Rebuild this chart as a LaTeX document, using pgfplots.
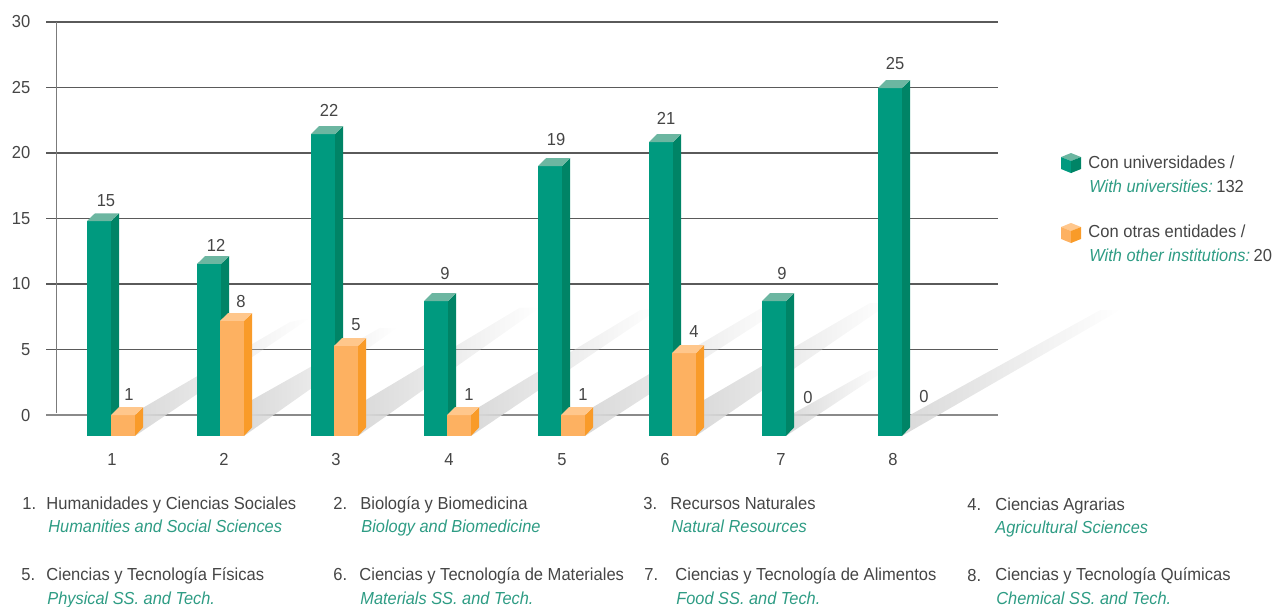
\documentclass[border=0pt]{standalone}
\usepackage{fontspec}
\setmainfont[FakeStretch=0.95,ItalicFeatures={FakeStretch=0.94}]{Liberation Sans}
\usepackage{pgfplots}
\pgfplotsset{compat=1.18}
\usetikzlibrary{fadings}

\definecolor{txt}{HTML}{454545}
\definecolor{engl}{HTML}{2E9C84}
\definecolor{gfront}{HTML}{009A7F}
\definecolor{gside}{HTML}{008466}
\definecolor{gtop}{HTML}{6CB6A1}
\definecolor{ofront}{HTML}{FDB161}
\definecolor{oside}{HTML}{F99B29}
\definecolor{otop}{HTML}{FFC78C}
\definecolor{gridc}{HTML}{5A5A5A}
\definecolor{zeroc}{HTML}{8A8A8A}

% labels above the bars: x in px, y where the number sits
\pgfplotstableread{
x   y     label
106 16.40 15
216 12.95 12
329 23.25 22
445 10.80 9
556 21.00 19
666 22.65 21
782 10.80 9
895 26.85 25
241 8.70  8
356 6.90  5
129 1.60  1
469 1.60  1
583 1.60  1
694 6.35  4
808 1.30  0
924 1.45  0
}\barlabels

% x0 (left edge), top of the front face, then the three face colours
\newcommand{\cube}[5]{%
  \pgfmathsetmacro{\xb}{#1+24}%
  \pgfmathsetmacro{\xc}{#1+32}%
  \pgfmathsetmacro{\xd}{#1+8}%
  \pgfmathsetmacro{\yt}{#2+0.6}%
  \addplot[draw=none,fill=#3] coordinates {(#1,-1.6) (\xb,-1.6) (\xb,#2) (#1,#2)};
  \addplot[draw=none,fill=#4] coordinates {(\xb,-1.6) (\xc,-0.95) (\xc,\yt) (\xb,#2)};
  \addplot[draw=none,fill=#5] coordinates {(#1,#2) (\xb,#2) (\xc,\yt) (\xd,\yt)};
}
\tikzset{shadowstyle/.style={draw=none,fill=black!15,path fading=east}}

\tikzset{
  lab/.style={anchor=base west,inner sep=0pt,text=txt,font=\fontsize{8.7}{10}\selectfont},
  eng/.style={anchor=base west,inner sep=0pt,text=engl,font=\fontsize{8.7}{10}\selectfont\itshape},
}

\begin{document}
\begin{tikzpicture}[x=0.5pt,y=-0.5pt]
\useasboundingbox (0,0) rectangle (1278,606);
\begin{axis}[
    at={(23pt,-207.5pt)}, anchor=south west,
    scale only axis,
    width=476pt, height=196.5pt,
    xmin=46, xmax=998,
    ymin=0, ymax=30,
    clip=false,
    axis line style={draw=none},
    major tick length=0pt,
    ytick={5,10,15,20,25,30},
    extra y ticks={0},
    extra y tick style={grid style={line width=1pt,color=zeroc}},
    ymajorgrids=true,
    grid style={line width=0.6pt,color=gridc},
    xtick={112,224,336,449,562,665,781,893},
    xticklabels={1,2,3,4,5,6,7,8},
    tick label style={font=\fontsize{8.7}{10}\selectfont,text=txt},
    /pgf/number format/assume math mode=true,
    xticklabel style={yshift=-15.6pt},
    yticklabel style={xshift=-4.3pt},
    every node near coord/.append style={anchor=center,font=\fontsize{8.7}{10}\selectfont,text=txt},
]
% left rule
\addplot[line width=0.6pt,color=gridc!80] coordinates {(56.5,0.15) (56.5,30)};

% shadows on the floor
\addplot[shadowstyle] coordinates {(135,-1.6) (143,0.55) (290,7.1) (310,7.4)};
\addplot[shadowstyle] coordinates {(244,-1.6) (252,1.15) (380,6.65) (397,6.65)};
\addplot[shadowstyle] coordinates {(358,-1.6) (366,1.15) (520,8.2) (540,8.2)};
\addplot[shadowstyle] coordinates {(471,-1.6) (479,0.6) (640,8) (660,8.15)};
\addplot[shadowstyle] coordinates {(585,-1.6) (593,0.6) (770,8.55) (790,8.55)};
\addplot[shadowstyle] coordinates {(696,-1.6) (704,1.15) (870,8.55) (890,8.55)};
\addplot[shadowstyle] coordinates {(786,-1.6) (794,0.15) (870,3.4) (885,3.4)};
\addplot[shadowstyle] coordinates {(902,-1.6) (910,0) (1100,8) (1120,8)};

% Con universidades
\cube{87}{14.80}{gfront}{gside}{gtop}
\cube{197}{11.53}{gfront}{gside}{gtop}
\cube{311}{21.45}{gfront}{gside}{gtop}
\cube{424}{8.70}{gfront}{gside}{gtop}
\cube{538}{19.00}{gfront}{gside}{gtop}
\cube{649}{20.84}{gfront}{gside}{gtop}
\cube{762}{8.70}{gfront}{gside}{gtop}
\cube{878}{24.96}{gfront}{gside}{gtop}

% Con otras entidades
\cube{111}{0}{ofront}{oside}{otop}
\cube{220}{7.18}{ofront}{oside}{otop}
\cube{334}{5.27}{ofront}{oside}{otop}
\cube{447}{0}{ofront}{oside}{otop}
\cube{561}{0}{ofront}{oside}{otop}
\cube{672}{4.73}{ofront}{oside}{otop}

\addplot[draw=none,mark=none,nodes near coords,point meta=explicit symbolic]
    table[x=x,y=y,meta=label] {\barlabels};

% legend swatches
\addplot[draw=none,fill=gtop] coordinates {(1061,19.69) (1071,20) (1081,19.69) (1071,19.39)};
\addplot[draw=none,fill=gfront] coordinates {(1061,19.69) (1071,19.39) (1071,18.47) (1061,18.78)};
\addplot[draw=none,fill=gside] coordinates {(1071,19.39) (1081,19.69) (1081,18.78) (1071,18.47)};
\addplot[draw=none,fill=otop] coordinates {(1061,14.35) (1071,14.66) (1081,14.35) (1071,14.05)};
\addplot[draw=none,fill=ofront] coordinates {(1061,14.35) (1071,14.05) (1071,13.13) (1061,13.44)};
\addplot[draw=none,fill=oside] coordinates {(1071,14.05) (1081,14.35) (1081,13.44) (1071,13.13)};
\end{axis}

% legend text
\node[lab] at (1088,168) {Con universidades /};
\node[lab] at (1089,192) {\textcolor{engl}{\itshape With universities:}\hspace{0.2em}132};
\node[lab] at (1088,237) {Con otras entidades /};
\node[lab] at (1089,261) {\textcolor{engl}{\itshape With other institutions:}\hspace{0.2em}20};

% key of the categories
\node[lab] at (22,509) {1.};
\node[lab] at (46,509) {Humanidades y Ciencias Sociales};
\node[eng] at (48,532) {Humanities and Social Sciences};
\node[lab] at (333,509) {2.};
\node[lab] at (360,509) {Biología y Biomedicina};
\node[eng] at (361,532) {Biology and Biomedicine};
\node[lab] at (643,509) {3.};
\node[lab] at (670,509) {Recursos Naturales};
\node[eng] at (671,532) {Natural Resources};
\node[lab] at (967,510) {4.};
\node[lab] at (995,510) {Ciencias Agrarias};
\node[eng] at (995,533) {Agricultural Sciences};
\node[lab] at (21,580) {5.};
\node[lab] at (46,580) {Ciencias y Tecnología Físicas};
\node[eng] at (47,604) {Physical SS. and Tech.};
\node[lab] at (333,580) {6.};
\node[lab] at (359,580) {Ciencias y Tecnología de Materiales};
\node[eng] at (360,604) {Materials SS. and Tech.};
\node[lab] at (644,580) {7.};
\node[lab] at (675,580) {Ciencias y Tecnología de Alimentos};
\node[eng] at (676,604) {Food SS. and Tech.};
\node[lab] at (967,581) {8.};
\node[lab] at (995,580) {Ciencias y Tecnología Químicas};
\node[eng] at (996,604) {Chemical SS. and Tech.};
\end{tikzpicture}
\end{document}
